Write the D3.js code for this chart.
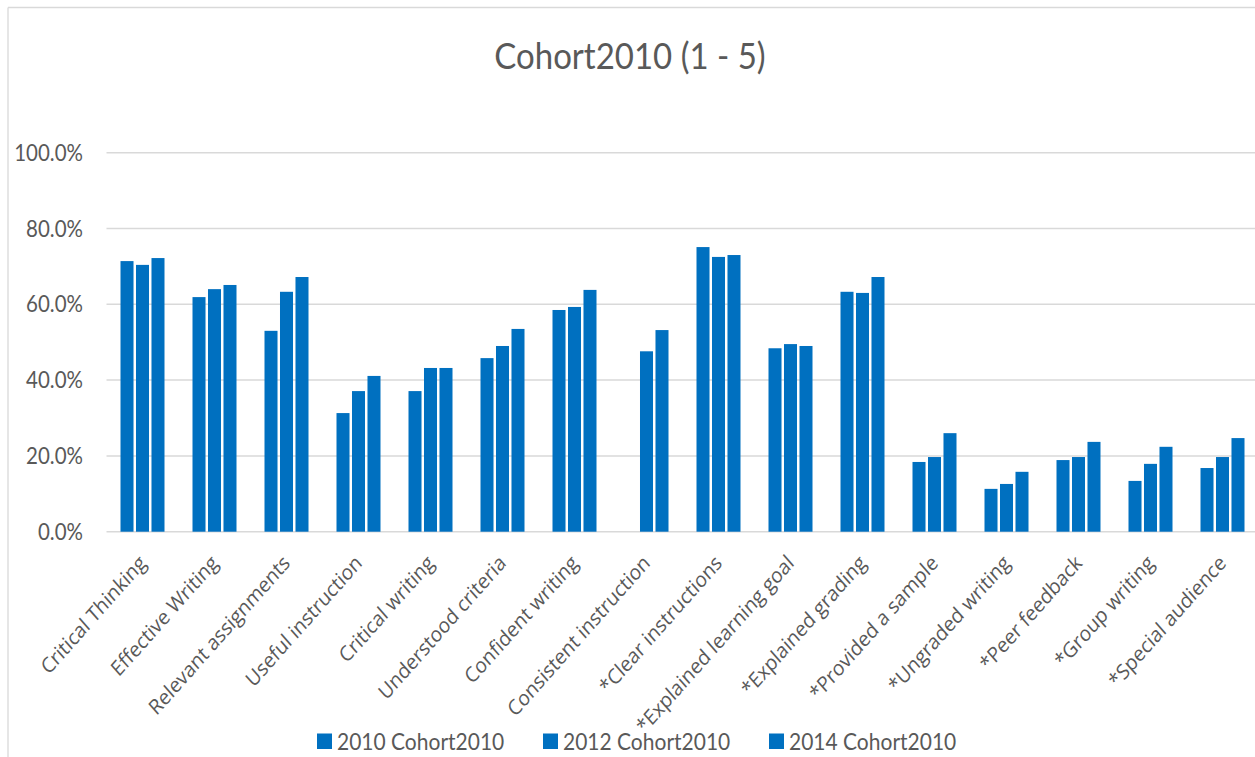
<!DOCTYPE html>
<html>
<head>
<meta charset="utf-8">
<script src="https://cdn.jsdelivr.net/npm/d3@7/dist/d3.min.js"></script>
<style>
  html, body { margin: 0; padding: 0; background: #ffffff; }
  svg { display: block; }
</style>
</head>
<body>
<svg id="chart" width="1255" height="757"></svg>
<script>
// Survey items shown along the x axis
const categories = [
  "Critical Thinking", "Effective Writing", "Relevant assignments", "Useful instruction",
  "Critical writing", "Understood criteria", "Confident writing", "Consistent instruction",
  "*Clear instructions", "*Explained learning goal", "*Explained grading", "*Provided a sample",
  "*Ungraded writing", "*Peer feedback", "*Group writing", "*Special audience"
];

// Share of responses (percent) per survey year; null = not asked that year
const values2010 = [71.4, 61.9, 53.0, 31.3, 37.1, 45.8, 58.5, null, 75.1, 48.4, 63.3, 18.4, 11.3, 18.9, 13.4, 16.8];
const values2012 = [70.4, 64.0, 63.3, 37.1, 43.2, 49.0, 59.3, 47.6, 72.5, 49.5, 63.0, 19.7, 12.6, 19.7, 17.9, 19.7];
const values2014 = [72.2, 65.1, 67.2, 41.1, 43.2, 53.5, 63.8, 53.2, 73.0, 49.0, 67.2, 26.0, 15.8, 23.7, 22.4, 24.7];

const seriesNames = ["2010 Cohort2010", "2012 Cohort2010", "2014 Cohort2010"];
const yTicks = [0, 20, 40, 60, 80, 100];

const series = [
  { name: seriesNames[0], values: values2010 },
  { name: seriesNames[1], values: values2012 },
  { name: seriesNames[2], values: values2014 }
];

const barColor = "#0070C0";
const textColor = "#595959";
const gridColor = "#d9d9d9";
const textStretch = 1.1;   // slightly tall lettering

const svg = d3.select("#chart");

// frame of the chart area
svg.append("line").attr("x1", 8).attr("x2", 8).attr("y1", 7.5).attr("y2", 757)
  .attr("stroke", gridColor).attr("stroke-width", 1.3);
svg.append("line").attr("x1", 8).attr("x2", 1255).attr("y1", 7.5).attr("y2", 7.5)
  .attr("stroke", gridColor).attr("stroke-width", 1.3);

const plot = { left: 106.5, right: 1258.5, top: 152.7, bottom: 531.7 };

const x0 = d3.scaleBand().domain(categories).range([plot.left, plot.right]).paddingInner(0).paddingOuter(0);
const groupWidth = 44;
const x1 = d3.scaleBand().domain(seriesNames).range([0, groupWidth]).paddingInner(0.16).paddingOuter(0);
const y = d3.scaleLinear().domain([0, 100]).range([plot.bottom, plot.top]);

// gridlines
svg.append("g")
  .selectAll("line")
  .data(yTicks)
  .join("line")
  .attr("x1", plot.left)
  .attr("x2", plot.right)
  .attr("y1", d => y(d))
  .attr("y2", d => y(d))
  .attr("stroke", gridColor)
  .attr("stroke-width", 1.5);

// y axis labels
const yg = svg.append("g");
yg.selectAll("text")
  .data(yTicks)
  .join("text")
  .attr("transform", d => `translate(83,${y(d)}) scale(1,${textStretch})`)
  .attr("text-anchor", "end")
  .attr("dy", "0.36em")
  .attr("fill", textColor)
  .attr("font-family", "Lato, 'Open Sans', sans-serif")
  .attr("font-size", 20.5)
  .text(d => d3.format(".1f")(d) + "%");

// bars
const groups = svg.append("g")
  .selectAll("g")
  .data(categories)
  .join("g")
  .attr("transform", d => `translate(${x0(d) + (x0.bandwidth() - groupWidth) / 2},0)`);

groups.selectAll("rect")
  .data((c, i) => series.map(s => ({ key: s.name, value: s.values[i] })).filter(d => d.value !== null))
  .join("rect")
  .attr("x", d => x1(d.key))
  .attr("width", x1.bandwidth())
  .attr("y", d => y(d.value))
  .attr("height", d => y(0) - y(d.value))
  .attr("fill", barColor);

// category labels, rotated
const xg = svg.append("g");
xg.selectAll("text")
  .data(categories)
  .join("text")
  .attr("transform", d => `translate(${x0(d) + x0.bandwidth() / 2},559) scale(1,1.13) rotate(-45)`)
  .attr("text-anchor", "end")
  .attr("dy", "0.35em")
  .attr("fill", textColor)
  .attr("font-family", "'Open Sans', sans-serif")
  .attr("font-size", 18.8)
  .text(d => d);

// title
svg.append("text")
  .attr("transform", `translate(630,69) scale(1,${textStretch})`)
  .attr("text-anchor", "middle")
  .attr("fill", textColor)
  .attr("font-family", "Lato, 'Open Sans', sans-serif")
  .attr("font-size", 33)
  .text("Cohort2010 (1 - 5)");

// legend
const legend = svg.append("g")
  .selectAll("g")
  .data(seriesNames)
  .join("g")
  .attr("transform", (d, i) => `translate(${317 + i * 226},733.5)`);
legend.append("rect").attr("width", 15).attr("height", 15.5).attr("fill", barColor);
legend.append("text")
  .attr("transform", `translate(20,8) scale(1,${textStretch})`)
  .attr("dy", "0.36em")
  .attr("fill", textColor)
  .attr("font-family", "Lato, 'Open Sans', sans-serif")
  .attr("font-size", 21)
  .text(d => d);
</script>
</body>
</html>
